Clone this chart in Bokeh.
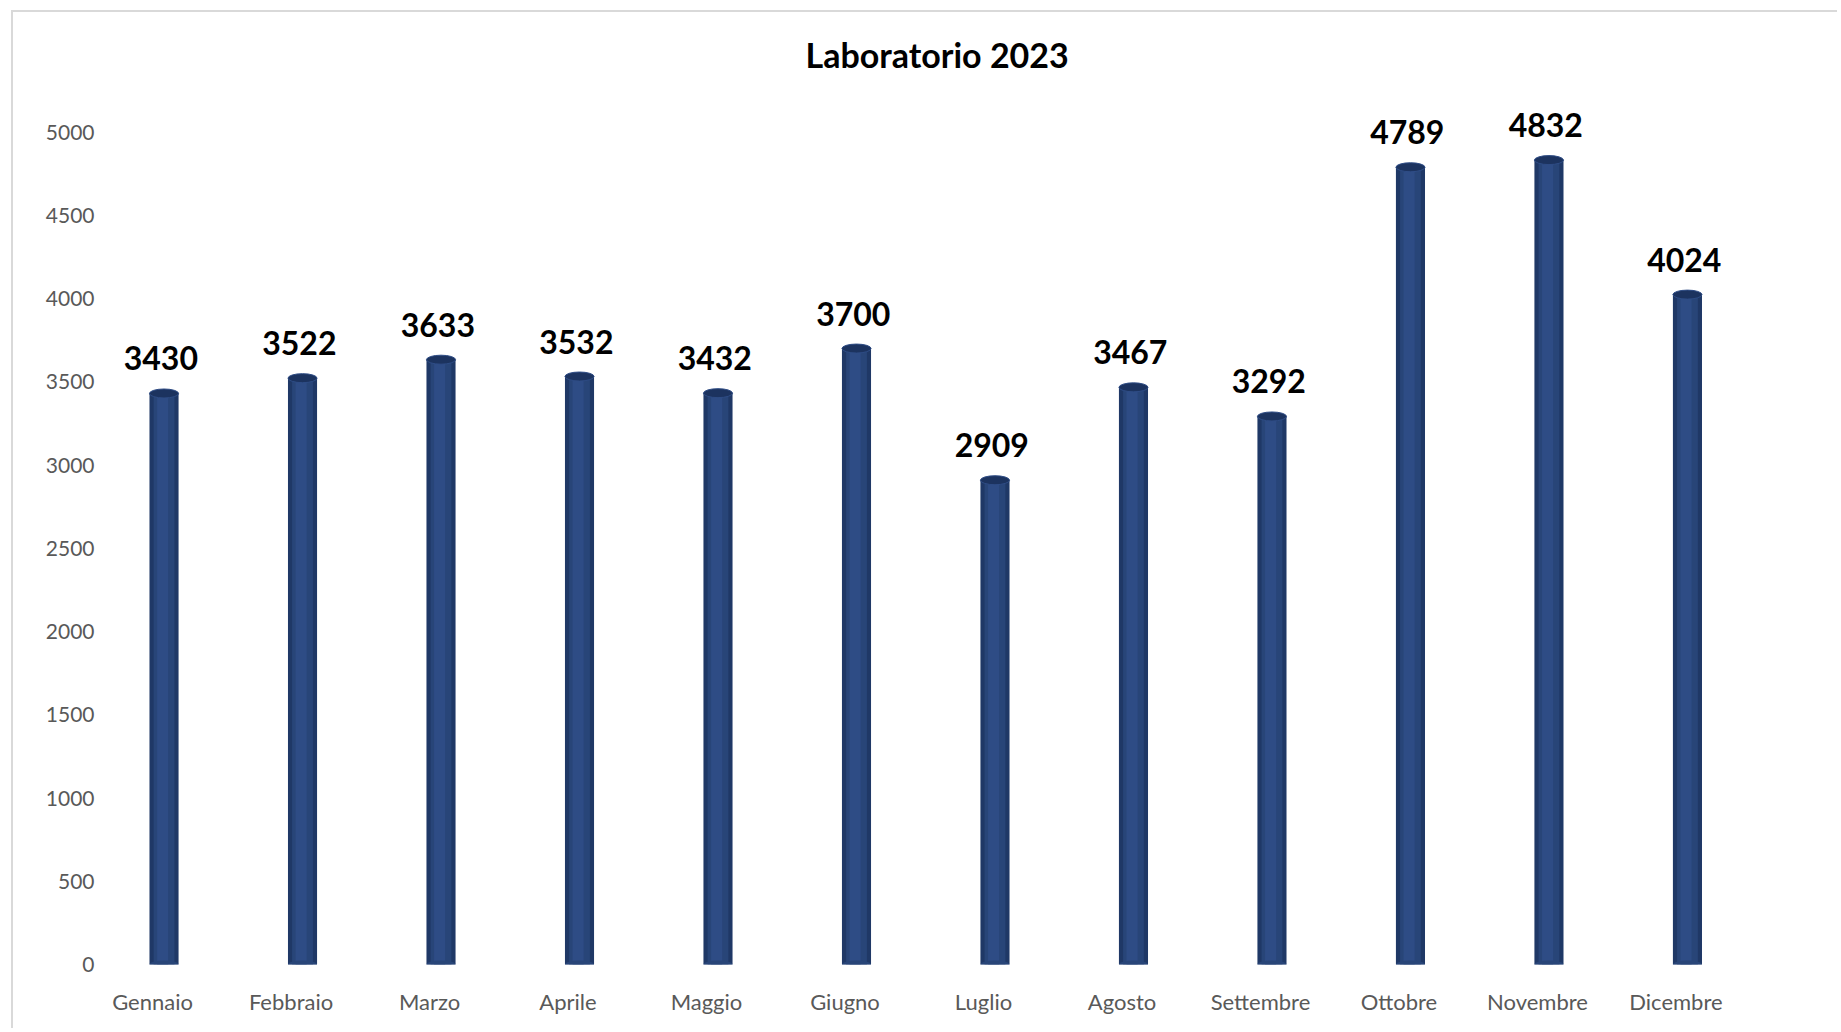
from bokeh.plotting import figure
from bokeh.models import Range1d, FixedTicker
from bokeh.core.properties import value
from bokeh.embed import file_html
from bokeh.resources import INLINE

months = ["Gennaio", "Febbraio", "Marzo", "Aprile", "Maggio", "Giugno",
          "Luglio", "Agosto", "Settembre", "Ottobre", "Novembre", "Dicembre"]
counts = [3430, 3522, 3633, 3532, 3432, 3700, 2909, 3467, 3292, 4789, 4832, 4024]
y_ticks = [0, 500, 1000, 1500, 2000, 2500, 3000, 3500, 4000, 4500, 5000]
title_text = "Laboratorio 2023"

W, H = 1826, 1018
p = figure(width=W, height=H, output_backend="svg", toolbar_location=None,
           x_range=Range1d(-0.354, 12.087), y_range=Range1d(0, 5250),
           min_border_left=90, min_border_right=13, min_border_top=78,
           min_border_bottom=66)
p.styles = {"border-top": "2px solid #D9D9D9", "border-left": "2px solid #D9D9D9",
            "margin-left": "11px", "margin-top": "10px"}

p.title.text = title_text
p.title.align = "left"
p.title.offset = 702
p.title.text_font = "Lato"
p.title.text_font_style = "bold"
p.title.text_font_size = "34px"
p.title.text_color = "#000000"
p.title.standoff = 31

p.xgrid.grid_line_color = None
p.ygrid.grid_line_color = None
p.outline_line_color = None
p.background_fill_color = "white"
p.border_fill_color = "white"

xs = list(range(len(months)))
bx = [x + 0.083 for x in xs]
lx = [x + 0.06 for x in xs]

# cylinder body
p.vbar(x=bx, top=counts, bottom=0, width=0.21, fill_color="#1F3866", line_color=None)
p.vbar(x=bx, top=counts, bottom=0, width=0.15, fill_color="#284578", line_color=None)
p.vbar(x=[b - 0.01 for b in bx], top=counts, bottom=0, width=0.08, fill_color="#2E4C85", line_color=None)
# bottom cap
p.ellipse(x=bx, y=[0] * len(bx), width=0.21, height=8, height_units="screen",
          fill_color="#284578", line_color=None)
# top cap
p.ellipse(x=bx, y=counts, width=0.21, height=9, height_units="screen",
          fill_color="#1C335F", line_color="#2E4C85", line_width=1)

# value labels
p.text(x=lx, y=counts, text=[str(c) for c in counts], text_align="center",
       text_baseline="alphabetic", y_offset=-35, text_font=value("Lato"),
       text_font_style="bold", text_font_size="32px", text_color="#000000")

p.xaxis.ticker = FixedTicker(ticks=xs)
p.xaxis.major_label_overrides = {i: m for i, m in enumerate(months)}
p.xaxis.axis_line_color = None
p.xaxis.major_tick_line_color = None
p.xaxis.minor_tick_line_color = None
p.xaxis.major_tick_out = 0
p.xaxis.minor_tick_out = 0
p.xaxis.major_label_standoff = 23
p.xaxis.major_label_text_font = "Lato"
p.xaxis.major_label_text_font_size = "22px"
p.xaxis.major_label_text_color = "#595959"

p.yaxis.ticker = FixedTicker(ticks=y_ticks)
p.yaxis.axis_line_color = None
p.yaxis.major_tick_line_color = None
p.yaxis.minor_tick_line_color = None
p.yaxis.major_tick_out = 0
p.yaxis.minor_tick_out = 0
p.yaxis.major_label_standoff = 9
p.yaxis.major_label_text_font = "Lato"
p.yaxis.major_label_text_font_size = "21px"
p.yaxis.major_label_text_color = "#595959"

open("out.html", "w").write(file_html(p, INLINE))
